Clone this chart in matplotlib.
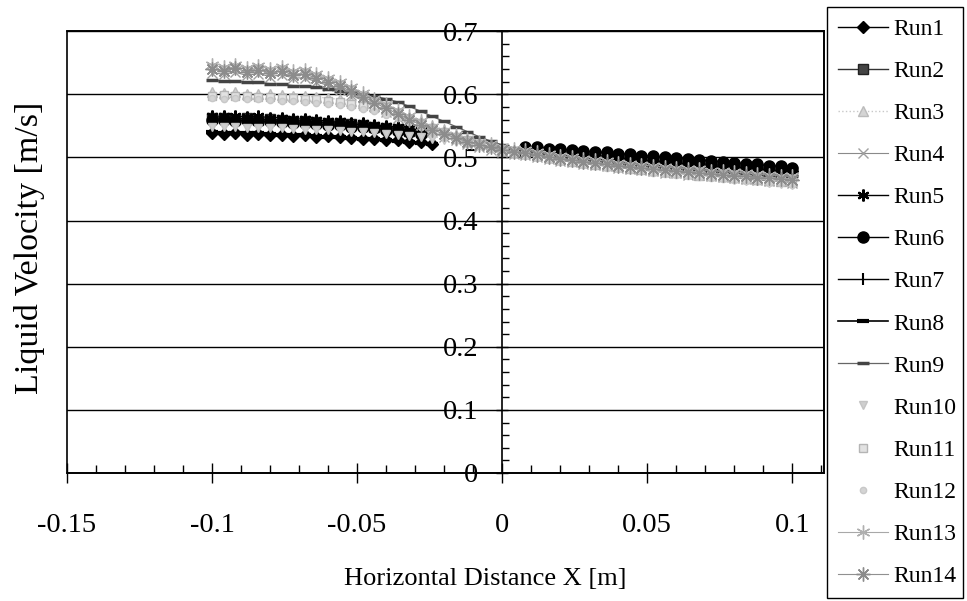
import matplotlib
matplotlib.use("Agg")
import matplotlib.pyplot as plt
from matplotlib.ticker import MultipleLocator, FuncFormatter

nan = float("nan")

# Horizontal measurement positions [m]
x_pos = [-0.100, -0.096, -0.092, -0.088, -0.084, -0.080, -0.076, -0.072, -0.068, -0.064,
         -0.060, -0.056, -0.052, -0.048, -0.044, -0.040, -0.036, -0.032, -0.028, -0.024,
         -0.020, -0.016, -0.012, -0.008, -0.004, 0.000, 0.004, 0.008, 0.012, 0.016,
         0.020, 0.024, 0.028, 0.032, 0.036, 0.040, 0.044, 0.048, 0.052, 0.056,
         0.060, 0.064, 0.068, 0.072, 0.076, 0.080, 0.084, 0.088, 0.092, 0.096, 0.100]

# Liquid velocity [m/s] for each run (nan = no reading)
run1 = [0.538, 0.537, 0.538, 0.536, 0.537, 0.535, 0.536, 0.534, 0.535, 0.533,
        0.534, 0.532, 0.531, 0.530, 0.529, 0.528, 0.527, 0.525, 0.524, 0.522,
        nan, nan, nan, nan, nan, nan, nan,
        0.512, 0.511, 0.509, 0.508, 0.506, 0.505, 0.503, 0.502, 0.500, 0.499,
        0.497, 0.496, 0.494, 0.493, 0.492, 0.490, 0.489, 0.488, 0.486, 0.485,
        0.483, 0.482, 0.480, 0.479]
run2 = [0.562, 0.563, 0.561, 0.562, 0.560, 0.561, 0.559, 0.558, 0.558, 0.556,
        0.555, 0.554, 0.553, 0.551, 0.549, 0.547, 0.545, 0.542, 0.540,
        nan, nan, nan, nan, nan, nan, nan, nan,
        0.511, 0.510, 0.508, 0.507, 0.505, 0.504, 0.503, 0.501, 0.500, 0.498,
        0.497, 0.495, 0.494, 0.492, 0.491, 0.490, 0.488, 0.487, 0.486, 0.484,
        0.483, 0.481, 0.480, 0.479]
run3 = [0.603, 0.602, 0.603, 0.601, 0.601, 0.600, 0.599, 0.598, 0.597, 0.596, 0.594,
        0.592, 0.589, 0.586, 0.582, 0.577, 0.571, 0.564, 0.557, 0.550, 0.543,
        0.536, 0.530, 0.524, 0.519, 0.515, 0.511,
        0.507, 0.504, 0.501, 0.498, 0.495, 0.493, 0.490, 0.488, 0.486, 0.484,
        0.482, 0.480, 0.478, 0.477, 0.475, 0.473, 0.472, 0.470, 0.469, 0.467,
        0.466, 0.465, 0.463, 0.462]
run4 = [0.634, 0.632, 0.635, 0.630, 0.633, 0.628, 0.631, 0.626, 0.626,
        0.620, 0.614, 0.607, 0.599, 0.590, 0.581, 0.572, 0.563, 0.555, 0.547,
        0.540, 0.533, 0.527, 0.521, 0.516, 0.512, 0.508, 0.505,
        0.504, 0.501, 0.498, 0.495, 0.493, 0.490, 0.488, 0.486, 0.484, 0.482,
        0.480, 0.478, 0.476, 0.475, 0.473, 0.472, 0.470, 0.469, 0.467, 0.466,
        0.464, 0.463, 0.462, 0.460]
run5 = [0.566, 0.565, 0.566, 0.564, 0.565, 0.563, 0.563, 0.561, 0.561, 0.559,
        0.558, 0.557, 0.555, 0.554, 0.552, 0.550, 0.548, 0.546, 0.543,
        nan, nan, nan, nan, nan, nan, nan, nan,
        0.509, 0.508, 0.506, 0.505, 0.503, 0.502, 0.500, 0.499, 0.497, 0.496,
        0.494, 0.493, 0.491, 0.490, 0.488, 0.487, 0.486, 0.484, 0.483, 0.481,
        0.480, 0.479, 0.477, 0.476]
run6 = [0.559, 0.560, 0.558, 0.559, 0.557, 0.557, 0.556, 0.555, 0.554, 0.553,
        0.552, 0.551, 0.549, 0.548, 0.546, 0.544, 0.542, 0.540, 0.537,
        nan, nan, nan, nan, nan, nan, nan, nan,
        0.517, 0.516, 0.514, 0.513, 0.512, 0.510, 0.509, 0.508, 0.506, 0.505,
        0.503, 0.502, 0.501, 0.499, 0.498, 0.496, 0.495, 0.493, 0.492, 0.490,
        0.489, 0.487, 0.486, 0.484]
run7 = [0.563, 0.562, 0.563, 0.561, 0.561, 0.560, 0.559, 0.559, 0.557, 0.556,
        0.556, 0.554, 0.553, 0.551, 0.550, 0.548, 0.546, 0.543, 0.541,
        nan, nan, nan, nan, nan, nan, nan, nan,
        0.510, 0.509, 0.507, 0.506, 0.504, 0.503, 0.502, 0.500, 0.499, 0.497,
        0.496, 0.494, 0.493, 0.491, 0.490, 0.489, 0.487, 0.486, 0.484, 0.483,
        0.482, 0.480, 0.479, 0.477]
run8 = [0.540, 0.539, 0.539, 0.538, 0.538, 0.537, 0.536, 0.536, 0.535, 0.534,
        0.533, 0.532, 0.531, 0.530, 0.529, 0.527, 0.526, 0.524, 0.523, 0.521,
        nan, nan, nan, nan, nan, nan, nan,
        0.508, 0.507, 0.505, 0.504, 0.502, 0.501, 0.499, 0.498, 0.496, 0.495,
        0.493, 0.492, 0.490, 0.489, 0.488, 0.486, 0.485, 0.484, 0.482, 0.481,
        0.479, 0.478, 0.477, 0.475]
run9 = [0.622, 0.621, 0.621, 0.619, 0.619, 0.617, 0.616, 0.614, 0.613, 0.611,
        0.609, 0.606, 0.603,
        0.600, 0.597, 0.593, 0.588, 0.581, 0.573, 0.565, 0.557, 0.549, 0.541,
        0.533, 0.526, 0.520, 0.515,
        0.511, 0.508, 0.505, 0.503, 0.500, 0.498, 0.496, 0.494, 0.492, 0.490,
        0.488, 0.486, 0.485, 0.483, 0.482, 0.480, 0.479, 0.477, 0.476, 0.475,
        0.473, 0.472, 0.471, 0.470]
run10 = [0.549, 0.548, 0.549, 0.547, 0.547, 0.546, 0.546, 0.545, 0.544, 0.544, 0.543,
         0.542, 0.541, 0.540, 0.539, 0.537, 0.536, 0.534, 0.532, 0.530, 0.528,
         0.525, 0.522, 0.519, 0.516, 0.513, 0.509,
         0.506, 0.503, 0.500, 0.497, 0.494, 0.492, 0.489, 0.487, 0.485, 0.482,
         0.480, 0.478, 0.476, 0.474, 0.472, 0.470, 0.469, 0.467, 0.465, 0.463,
         0.462, 0.460, 0.458, 0.456]
run11 = [0.598, 0.599, 0.597, 0.598, 0.596, 0.596, 0.595, 0.594, 0.593, 0.592, 0.590,
         0.588, 0.585, 0.582, 0.578, 0.573, 0.567, 0.561, 0.554, 0.547, 0.540,
         0.533, 0.527, 0.521, 0.516, 0.512, 0.508,
         0.505, 0.502, 0.499, 0.497, 0.494, 0.492, 0.489, 0.487, 0.485, 0.483,
         0.481, 0.479, 0.477, 0.476, 0.474, 0.472, 0.471, 0.469, 0.468, 0.466,
         0.465, 0.463, 0.462, 0.461]
run12 = [0.594, 0.593, 0.594, 0.592, 0.592, 0.591, 0.590, 0.589, 0.588, 0.587, 0.585,
         0.583, 0.580, 0.577, 0.573, 0.568, 0.562, 0.556, 0.549, 0.542, 0.536,
         0.530, 0.524, 0.518, 0.513, 0.509, 0.505,
         0.502, 0.499, 0.496, 0.493, 0.491, 0.488, 0.486, 0.484, 0.482, 0.480,
         0.478, 0.476, 0.474, 0.472, 0.471, 0.469, 0.468, 0.466, 0.465, 0.463,
         0.462, 0.460, 0.459, 0.457]
run13 = [0.646, 0.643, 0.647, 0.642, 0.645, 0.640, 0.643, 0.637, 0.638,
         0.632, 0.626, 0.619, 0.611, 0.602, 0.593, 0.584, 0.575, 0.566, 0.557,
         0.549, 0.542, 0.536, 0.530, 0.525, 0.521, 0.517, 0.514,
         0.512, 0.509, 0.506, 0.503, 0.501, 0.498, 0.496, 0.494, 0.492, 0.490,
         0.488, 0.487, 0.485, 0.484, 0.482, 0.481, 0.479, 0.478, 0.477, 0.475,
         0.474, 0.473, 0.471, 0.470]
run14 = [0.640, 0.637, 0.641, 0.636, 0.639, 0.634, 0.637, 0.631, 0.632,
         0.626, 0.620, 0.613, 0.605, 0.596, 0.587, 0.578, 0.569, 0.560, 0.552,
         0.544, 0.537, 0.531, 0.525, 0.520, 0.516, 0.512, 0.509,
         0.507, 0.504, 0.501, 0.498, 0.496, 0.493, 0.491, 0.489, 0.487, 0.485,
         0.483, 0.481, 0.480, 0.478, 0.477, 0.475, 0.474, 0.472, 0.471, 0.470,
         0.468, 0.467, 0.466, 0.464]

run_names = ["Run1", "Run2", "Run3", "Run4", "Run5", "Run6", "Run7",
             "Run8", "Run9", "Run10", "Run11", "Run12", "Run13", "Run14"]
run_values = [run1, run2, run3, run4, run5, run6, run7,
              run8, run9, run10, run11, run12, run13, run14]

asterisk6 = (6, 2, 0)
asterisk8 = (8, 2, 0)

# Line / marker style per run (greyscale)
styles = [
    dict(color="#000000", ls="-", lw=1.0, marker="D", ms=6.5, mfc="#000000", mec="#000000"),
    dict(color="#333333", ls="-", lw=1.0, marker="s", ms=7.0, mfc="#444444", mec="#222222"),
    dict(color="#c8c8c8", ls=":", lw=1.0, marker="^", ms=7.0, mfc="#d4d4d4", mec="#bbbbbb"),
    dict(color="#8a8a8a", ls="-", lw=0.8, marker="x", ms=7.5, mew=1.0, mec="#a0a0a0"),
    dict(color="#000000", ls="-", lw=1.0, marker=asterisk6, ms=8.5, mew=1.6, mec="#000000"),
    dict(color="#000000", ls="-", lw=1.0, marker="o", ms=8.0, mfc="#000000", mec="#000000"),
    dict(color="#000000", ls="-", lw=1.0, marker="|", ms=9.0, mew=1.5, mec="#000000"),
    dict(color="#000000", ls="-", lw=1.2, marker="_", ms=9.0, mew=3.0, mec="#000000"),
    dict(color="#666666", ls="-", lw=0.9, marker="_", ms=9.0, mew=2.5, mec="#444444"),
    dict(color="#cfcfcf", ls="none", marker="v", ms=5.5, mfc="#cfcfcf", mec="#c4c4c4"),
    dict(color="#c4c4c4", ls="none", marker="s", ms=6.0, mfc="#e2e2e2", mec="#b5b5b5"),
    dict(color="#d0d0d0", ls="none", marker="o", ms=4.5, mfc="#d4d4d4", mec="#c8c8c8"),
    dict(color="#a8a8a8", ls="-", lw=0.8, marker=asterisk6, ms=10.0, mew=1.0, mec="#b0b0b0"),
    dict(color="#909090", ls="-", lw=0.8, marker=asterisk8, ms=10.0, mew=1.0, mec="#8c8c8c"),
]

x_ticks = [-0.15, -0.10, -0.05, 0.0, 0.05, 0.10]
y_ticks = [0.0, 0.1, 0.2, 0.3, 0.4, 0.5, 0.6, 0.7]

plt.rcParams["font.family"] = ["Liberation Serif", "DejaVu Serif"]
plt.rcParams["axes.unicode_minus"] = False

fig = plt.figure(figsize=(9.67, 6.01), dpi=100)
ax = fig.add_axes([0.0693, 0.213, 0.7829, 0.735])

for name, vals, st in zip(run_names, run_values, styles):
    ax.plot(x_pos, vals, label=name, **st)

ax.set_xlim(-0.15, 0.111)
ax.set_ylim(0.0, 0.7)

# y axis drawn through x = 0, frame kept around the plot area
ax.spines["left"].set_position(("data", 0.0))
ax.patch.set_edgecolor("black")
ax.patch.set_linewidth(1.2)
for s in ("top", "right", "bottom", "left"):
    ax.spines[s].set_linewidth(1.2)

ax.set_xticks(x_ticks)
ax.set_yticks(y_ticks)
ax.xaxis.set_minor_locator(MultipleLocator(0.01))
ax.yaxis.set_minor_locator(MultipleLocator(0.02))
fmt = FuncFormatter(lambda v, p: "%g" % round(v, 3))
ax.xaxis.set_major_formatter(fmt)
ax.yaxis.set_major_formatter(fmt)

ax.tick_params(axis="x", which="major", direction="inout", length=14, width=1.0,
               labelsize=20.5, pad=22)
ax.tick_params(axis="x", which="minor", direction="in", length=6, width=1.0)
ax.tick_params(axis="y", which="major", direction="inout", length=8, width=1.0,
               labelsize=20.5, pad=13)
ax.tick_params(axis="y", which="minor", direction="in", length=5, width=1.0)

ax.yaxis.grid(True, which="major", color="black", lw=1.0)
ax.set_axisbelow(True)

ax.set_xlabel("Horizontal Distance X [m]", fontsize=19)
ax.xaxis.set_label_coords(0.552, -0.216)
ax.set_ylabel("Liquid Velocity [m/s]", fontsize=24.5)
ax.yaxis.set_label_coords(-0.029, 0.51)

leg = fig.legend(loc="upper left", bbox_to_anchor=(0.855, 0.988, 0.1406, 0.0),
                 mode="expand", fontsize=17, frameon=True, fancybox=False,
                 framealpha=1.0, edgecolor="black", handlelength=2.1,
                 handletextpad=0.25, labelspacing=0.87, borderpad=0.48,
                 borderaxespad=0.0)
leg.get_frame().set_linewidth(1.0)

fig.savefig("out.png", dpi=100)
